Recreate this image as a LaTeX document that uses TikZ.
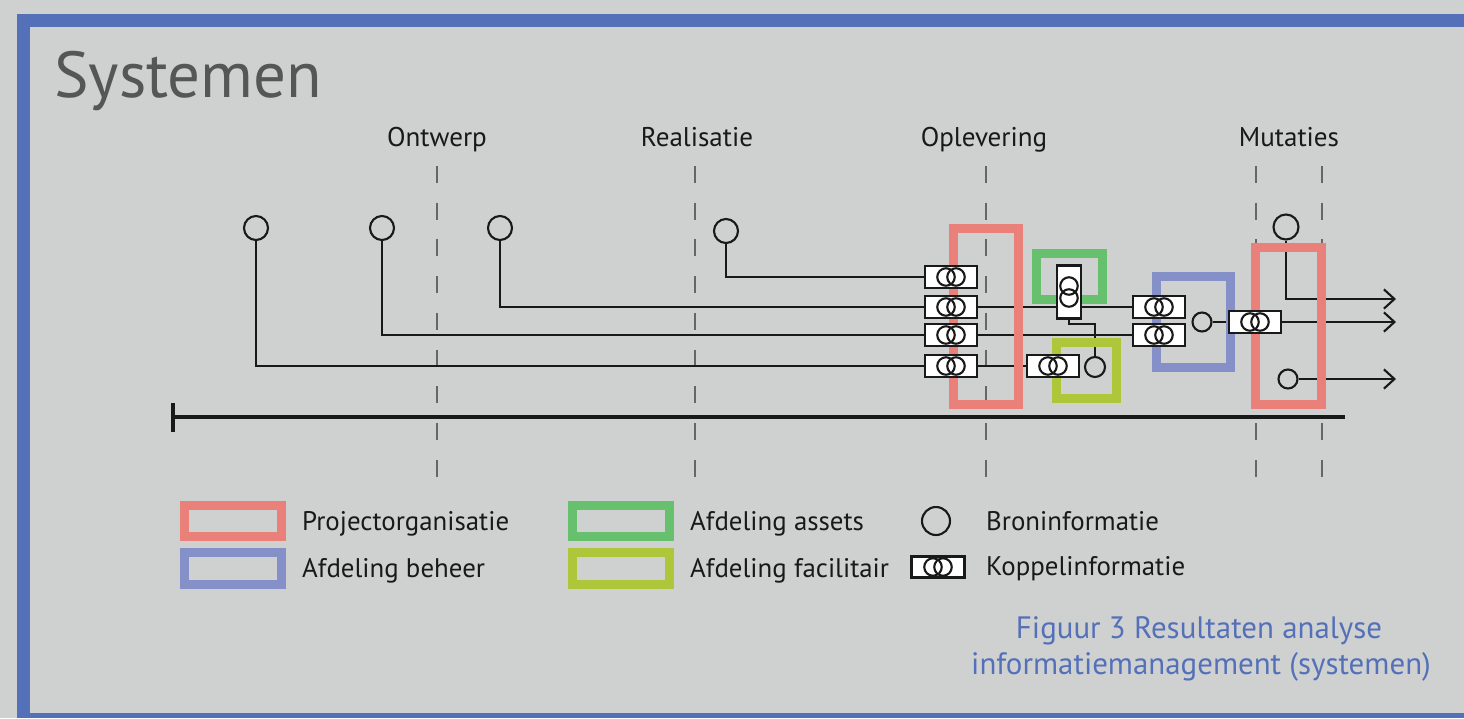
\documentclass[tikz,border=0pt]{standalone}
\usepackage{fontspec}
\setmainfont{PT Sans}
\usepackage{tikz}
\usetikzlibrary{arrows.meta,positioning,calc}
\definecolor{RandBlauw}{RGB}{84,112,184}
\definecolor{Achtergrond}{RGB}{207,209,208}
\definecolor{ProjRood}{RGB}{233,128,122}
\definecolor{AssetGroen}{RGB}{103,192,109}
\definecolor{FacGeel}{RGB}{174,199,58}
\definecolor{BeheerBlauw}{RGB}{134,144,200}
\definecolor{TitelGrijs}{RGB}{85,87,86}
\pgfdeclarelayer{achter}
\pgfdeclarelayer{lijnen}
\pgfsetlayers{achter,lijnen,main}

\begin{document}
\begin{tikzpicture}[x=0.02cm,y=-0.02cm,
  bron/.style={circle,draw=black!90,line width=1.2pt,minimum size=0.48cm,inner sep=0pt},
  klein/.style={bron,minimum size=0.38cm},
  koppel/.style={draw=black!90,fill=white,line width=1.5pt,minimum width=1.04cm,minimum height=0.44cm,inner sep=0pt,
    path picture={\draw[line width=1.2pt,black!90] ([xshift=-0.1cm]path picture bounding box.center) circle[radius=0.175cm]
      ([xshift=0.1cm]path picture bounding box.center) circle[radius=0.175cm];}},
  koppelv/.style={koppel,minimum width=0.48cm,minimum height=1.06cm,
    path picture={\draw[line width=1.2pt,black!90] ([yshift=0.12cm]path picture bounding box.center) circle[radius=0.175cm]
      ([yshift=-0.12cm]path picture bounding box.center) circle[radius=0.175cm];}},
  kader/.style={draw=#1,line width=5.1pt},
  lijn/.style={line width=1.2pt,black!90},
  pijl/.style={lijn,-{Straight Barb[length=6pt,width=11pt]}},
  fase/.style={font=\fontsize{15.4}{18}\selectfont,anchor=base,text=black!90},
  leg/.style={font=\fontsize{15.3}{18}\selectfont,anchor=base west,text=black!90},
  raster/.style={line width=1.1pt,black!60,dash pattern=on 9.6pt off 11.3pt}]

  % achtergrond en rand
  \begin{pgfonlayer}{achter}
    \fill[Achtergrond] (0,0) rectangle (1464,718);
    \fill[RandBlauw] (17,14) rectangle (1464,27);
    \fill[RandBlauw] (17,14) rectangle (30,718);
    \fill[RandBlauw] (17,713) rectangle (1464,718);
    \foreach \x in {437,695,986,1256,1322}
      \draw[raster] (\x,166) -- (\x,478);
    \draw[line width=2.3pt,black!90] (173,417) -- (1345,417);
    \draw[line width=2.3pt,black!90] (173,403) -- (173,432);
  \end{pgfonlayer}

  \node[font=\fontsize{37}{42}\selectfont,text=TitelGrijs,anchor=base west] (titel) at (48,97) {Systemen};
  \foreach \x/\fasenaam in {437/Ontwerp,697/Realisatie,984/Oplevering,1289/Mutaties}
    \node[fase] (f-\fasenaam) at (\x,146) {\fasenaam};

  % kaders
  \draw[kader=ProjRood] (953.5,228.5) rectangle (1018.5,404.5);
  \draw[kader=AssetGroen] (1036.5,253.5) rectangle (1102.5,299.5);
  \draw[kader=FacGeel] (1056.5,342.5) rectangle (1116.5,398.5);
  \draw[kader=BeheerBlauw] (1156.5,276.5) rectangle (1230.5,367.5);
  \draw[kader=ProjRood] (1255.5,247.5) rectangle (1321.5,404.5);

  % broninformatie
  \node[bron] (b1) at (256,228) {};
  \node[bron] (b2) at (382,228) {};
  \node[bron] (b3) at (500,228) {};
  \node[bron] (b4) at (726,231) {};
  \node[bron,minimum size=0.5cm] (b5) at (1286,227) {};
  \node[klein,minimum size=0.4cm] (b6) at (1095,367) {};
  \node[klein] (b7) at (1202,322) {};
  \node[klein] (b8) at (1288,379) {};

  % koppelinformatie
  \node[koppel] (k1) at (951,277) {};
  \node[koppel] (k2) at (951,307) {};
  \node[koppel] (k3) at (951,335) {};
  \node[koppel] (k4) at (951,366) {};
  \node[koppel] (k5) at (1053,366) {};
  \node[koppelv] (kv) at (1069,292) {};
  \node[koppel] (k6) at (1159,307) {};
  \node[koppel] (k7) at (1159,335) {};
  \node[koppel] (k8) at (1255,322) {};
  \coordinate (uit1) at (1396,299);
  \coordinate (uit2) at (1396,322);
  \coordinate (uit3) at (1396,379);

  \begin{pgfonlayer}{lijnen}
    \draw[lijn] (b1.south) |- (k4.west);
    \draw[lijn] (b2.south) |- (k3.west);
    \draw[lijn] (b3.south) |- (k2.west);
    \draw[lijn] (b4.south) |- (k1.west);
    \draw[lijn] (k2) -- (k6);
    \draw[lijn] (k3) -- (k7);
    \draw[lijn] (k4) -- (k5);
    \draw[lijn] (kv.south) -- ++(0,4) -| (b6.north);
    \draw[lijn] (b7) -- (k8);
    \draw[pijl] (k8) -- (uit2);
    \draw[pijl] (b5.south) |- (uit1);
    \draw[pijl] (b8) -- (uit3);
  \end{pgfonlayer}

  % legenda
  \draw[kader=ProjRood] (184.5,505.5) rectangle (281.5,536.5);
  \draw[kader=BeheerBlauw] (184.5,552.5) rectangle (281.5,584.5);
  \draw[kader=AssetGroen] (572.5,505.5) rectangle (669.5,536.5);
  \draw[kader=FacGeel] (572.5,552.5) rectangle (669.5,584.5);
  \node[leg] (l-proj) at (296,530) {Projectorganisatie};
  \node[leg] (l-beh) at (296,577) {Afdeling beheer};
  \node[leg] (l-ass) at (684,530) {Afdeling assets};
  \node[leg] (l-fac) at (684,577) {Afdeling facilitair};
  \node[bron,minimum size=0.56cm] (l-bron) at (936,521) {};
  \node[koppel,minimum width=1.06cm,minimum height=0.42cm] (l-kop) at (938,567) {};
  \node[leg] (l-bi) at (980,530) {Broninformatie};
  \node[leg] (l-ki) at (980,575) {Koppelinformatie};

  % bijschrift
  \node[font=\fontsize{17.6}{21}\selectfont,text=RandBlauw,anchor=base] (cap1) at (1199,638) {Figuur 3 Resultaten analyse};
  \node[font=\fontsize{17.6}{21}\selectfont,text=RandBlauw,anchor=base] (cap2) at (1201,674) {informatiemanagement (systemen)};
\end{tikzpicture}
\end{document}
